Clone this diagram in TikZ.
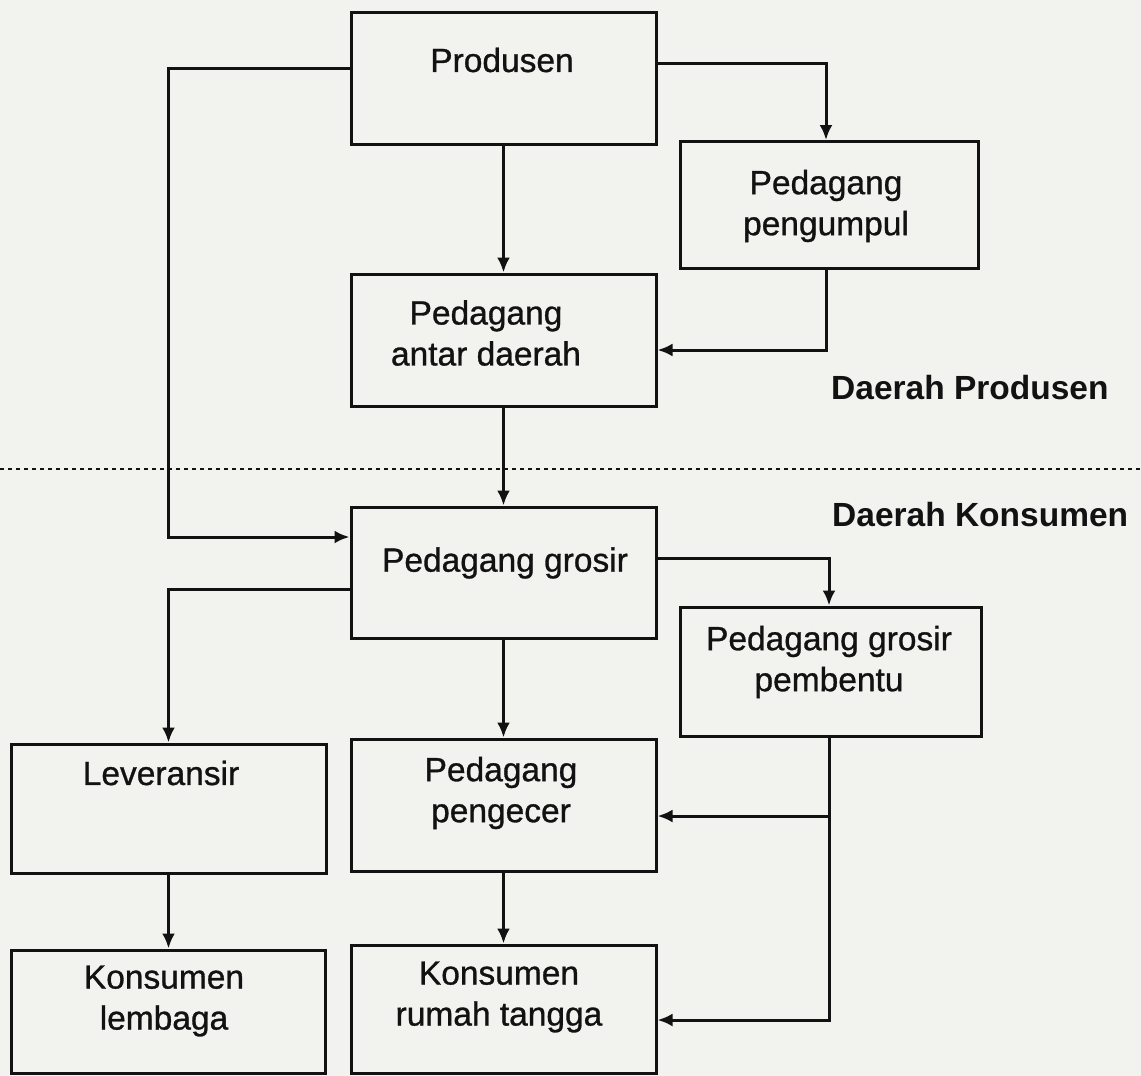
\documentclass[tikz,border=0pt]{standalone}
\usepackage{fontspec}
\setmainfont{Liberation Sans}
\newfontfamily\heavyfont{Liberation Sans}[RawFeature={embolden=0.9}]
\usetikzlibrary{arrows.meta}
\definecolor{ink}{RGB}{18,18,18}
\definecolor{paper}{RGB}{242,242,239}
\tikzset{
  box/.style={draw=ink, line width=3pt, rectangle, inner sep=0pt},
  txt/.style={text=ink, inner sep=0pt, align=center, font=\heavyfont\fontsize{33.5}{41}\selectfont},
  lbl/.style={text=ink, inner sep=0pt, anchor=west, font=\fontsize{33.5}{41}\selectfont\bfseries},
  arr/.style={draw=ink, line width=3pt, -{Latex[length=15pt,width=13pt]}},
  sepline/.style={draw=ink, line width=2pt, dash pattern=on 4pt off 4pt}
}
\begin{document}
\begin{tikzpicture}[x=1pt,y=-1pt]
\useasboundingbox (0,0) rectangle (1141,1076);
\fill[paper] (0,0) rectangle (1141,1076);

% boxes
\node[box, minimum width=305pt, minimum height=132pt] (prod) at (503.5,78) {};
\node[box, minimum width=298pt, minimum height=127pt] (pengumpul) at (829,205) {};
\node[box, minimum width=305pt, minimum height=132pt] (antar) at (503.5,340) {};
\node[box, minimum width=305pt, minimum height=131pt] (grosir) at (503.5,572.5) {};
\node[box, minimum width=301pt, minimum height=129pt] (pembentu) at (830.5,671.5) {};
\node[box, minimum width=315pt, minimum height=129pt] (lever) at (168.5,808.5) {};
\node[box, minimum width=305pt, minimum height=132pt] (pengecer) at (503.5,805) {};
\node[box, minimum width=314pt, minimum height=123pt] (lembaga) at (168.5,1011.5) {};
\node[box, minimum width=305pt, minimum height=128pt] (rumah) at (503.5,1009) {};

% texts
\node[txt] (prodt) at (502,60) {Produsen};
\node[txt] (pengumpult) at (826,206) {Pedagang\\pengumpul};
\node[txt] (antart) at (486,333) {Pedagang\\antar daerah};
\node[txt] (grosirt) at (505,563) {Pedagang grosir};
\node[txt] (pembentut) at (829,662) {Pedagang grosir\\pembentu};
\node[txt] (levert) at (161,773) {Leveransir};
\node[txt] (pengecert) at (501,793) {Pedagang\\pengecer};
\node[txt] (lembagat) at (164,1001) {Konsumen\\lembaga};
\node[txt] (rumaht) at (499,997) {Konsumen\\rumah tangga};

% region labels and separator
\node[lbl] (dprod) at (831,388) {Daerah Produsen};
\node[lbl] (dkons) at (832,515) {Daerah Konsumen};
\coordinate (sepL) at (0,469);
\coordinate (sepR) at (1141,469);
\draw[sepline] (sepL) -- (sepR);

% connectors
\coordinate (lx) at (168,300);
\draw[arr] ([yshift=10pt]prod.west) -| (lx) |- ([yshift=35.5pt]grosir.west);
\draw[arr] ([yshift=15pt]prod.east) -| ([xshift=-3pt]pengumpul.north);
\draw[arr] (prod.south) -- (antar.north);
\draw[arr] ([xshift=-3pt]pengumpul.south) |- ([yshift=-10pt]antar.east);
\draw[arr] (antar.south) -- (grosir.north);
\draw[arr] ([yshift=14.5pt]grosir.east) -| ([xshift=-1.5pt]pembentu.north);
\draw[arr] ([yshift=-16.5pt]grosir.west) -| (lever.north);
\draw[arr] (grosir.south) -- (pengecer.north);
\draw[arr] ([xshift=-1.5pt]pembentu.south) |- ([yshift=-11pt]pengecer.east);
\draw[arr] ([xshift=-1.5pt]pembentu.south) |- ([yshift=-11pt]rumah.east);
\draw[arr] (lever.south) -- (lembaga.north);
\draw[arr] (pengecer.south) -- (rumah.north);
\end{tikzpicture}
\end{document}
